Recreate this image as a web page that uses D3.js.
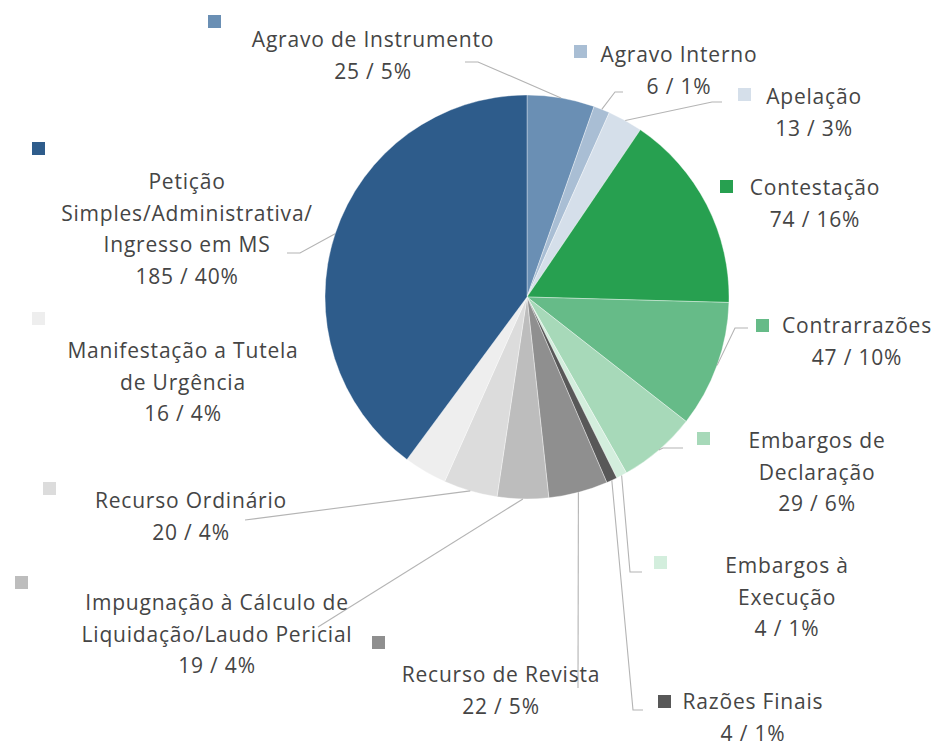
<!DOCTYPE html>
<html>
<head>
<meta charset="utf-8">
<script src="https://cdn.jsdelivr.net/npm/d3@7"></script>
<style>
  body { margin: 0; background: #fff; }
  .lbl { font-family: "Open Sans", "DejaVu Sans", sans-serif; font-size: 21px; letter-spacing: 0.8px; fill: #454545; }
</style>
</head>
<body>
<div id="chart"></div>
<script>
// data
const categories = [
    "Agravo de Instrumento", "Agravo Interno", "Apelação", "Contestação", "Contrarrazões",
    "Embargos de Declaração", "Embargos à Execução", "Razões Finais", "Recurso de Revista",
    "Impugnação à Cálculo de Liquidação/Laudo Pericial", "Recurso Ordinário",
    "Manifestação a Tutela de Urgência", "Petição Simples/Administrativa/Ingresso em MS"
];
const values = [25, 6, 13, 74, 47, 29, 4, 4, 22, 19, 20, 16, 185];
const colors = [
    "#6a8fb4", "#a9bed4", "#d5dfea", "#27a050", "#66bb88",
    "#a7d9b9", "#d3eedd", "#585858", "#8f8f8f",
    "#bdbdbd", "#dcdcdc", "#eeeeee", "#2e5c8b"
];
// wrapped label text
const nameLines = [
    ["Agravo de Instrumento"], ["Agravo Interno"], ["Apelação"], ["Contestação"], ["Contrarrazões"],
    ["Embargos de", "Declaração"], ["Embargos à", "Execução"], ["Razões Finais"], ["Recurso de Revista"],
    ["Impugnação à Cálculo de", "Liquidação/Laudo Pericial"], ["Recurso Ordinário"],
    ["Manifestação a Tutela", "de Urgência"], ["Petição", "Simples/Administrativa/", "Ingresso em MS"]
];

// label layout: text anchor, marker corner, leader points (label side first)
const layout = [
    {tx: 373, ty: 47,  mx: 208, my: 15,  lead: [[465, 62], [478, 62]]},
    {tx: 679, ty: 62,  mx: 574, my: 45,  lead: [[623, 92], [615, 92]]},
    {tx: 814, ty: 104, mx: 738, my: 88,  lead: [[722, 102], [712, 102]]},
    {tx: 815, ty: 195, mx: 720, my: 180, lead: null},
    {tx: 857, ty: 333, mx: 756, my: 319, lead: [[748, 328], [735, 328]]},
    {tx: 817, ty: 448, mx: 697, my: 432, lead: [[683, 448], [663, 448]]},
    {tx: 787, ty: 573, mx: 654, my: 556, lead: [[642, 572], [630, 572]]},
    {tx: 753, ty: 709, mx: 658, my: 695, lead: [[643, 710], [633, 710]]},
    {tx: 501, ty: 682, mx: 372, my: 636, lead: [[578, 688]]},
    {tx: 217, ty: 610, mx: 15,  my: 576, lead: [[318, 627]]},
    {tx: 191, ty: 508, mx: 43,  my: 482, lead: [[245, 520]]},
    {tx: 183, ty: 358, mx: 32,  my: 312, lead: null},
    {tx: 187, ty: 189, mx: 32,  my: 142, lead: [[287, 253], [300, 253]]}
];

const width = 937, height = 745;
const cx = 527, cy = 297, radius = 202;
const lineGap = 31.5, markerSize = 13;

// percentages rounded with largest remainder so they add to 100
function percents(vals) {
    let total = d3.sum(vals);
    let raw = vals.map(v => v / total * 100);
    let out = raw.map(Math.floor);
    let left = 100 - d3.sum(out);
    let order = d3.range(vals.length).sort((a, b) => (raw[b] - out[b]) - (raw[a] - out[a]));
    for (let i = 0; i < left; i++) out[order[i]] += 1;
    return out;
}
const pct = percents(values);

const svg = d3.select("#chart").append("svg")
    .attr("width", width)
    .attr("height", height);

const pie = d3.pie().sort(null).value(d => d);
const arcs = pie(values);

const arc = d3.arc().innerRadius(0).outerRadius(radius);

const g = svg.append("g").attr("transform", `translate(${cx},${cy})`);

g.selectAll("path.slice")
    .data(arcs)
    .enter().append("path")
    .attr("class", "slice")
    .attr("d", arc)
    .attr("fill", (d, i) => colors[i])
    .attr("stroke", "#ffffff")
    .attr("stroke-opacity", 0.6)
    .attr("stroke-width", 0.6);

// leader lines, ending at the slice mid angle on the rim
const line = d3.line();
svg.selectAll("path.leader")
    .data(arcs)
    .enter().filter((d, i) => layout[i].lead)
    .append("path")
    .attr("class", "leader")
    .attr("fill", "none")
    .attr("stroke", "#b4b4b4")
    .attr("stroke-width", 1.1)
    .attr("d", d => {
        let i = d.index;
        let mid = (d.startAngle + d.endAngle) / 2;
        let edge = [cx + radius * Math.sin(mid), cy - radius * Math.cos(mid)];
        return line(layout[i].lead.concat([edge]));
    });

// markers
svg.selectAll("rect.marker")
    .data(categories)
    .enter().append("rect")
    .attr("class", "marker")
    .attr("x", (d, i) => layout[i].mx)
    .attr("y", (d, i) => layout[i].my)
    .attr("width", markerSize)
    .attr("height", markerSize)
    .attr("fill", (d, i) => colors[i]);

// labels
const labels = svg.selectAll("text.lbl")
    .data(categories)
    .enter().append("text")
    .attr("class", "lbl")
    .attr("text-anchor", "middle");

labels.each(function (d, i) {
    let lines = nameLines[i].concat([`${values[i]} / ${pct[i]}%`]);
    d3.select(this).selectAll("tspan")
        .data(lines)
        .enter().append("tspan")
        .attr("x", layout[i].tx)
        .attr("y", (t, j) => layout[i].ty + j * lineGap)
        .text(t => t);
});
</script>
</body>
</html>
